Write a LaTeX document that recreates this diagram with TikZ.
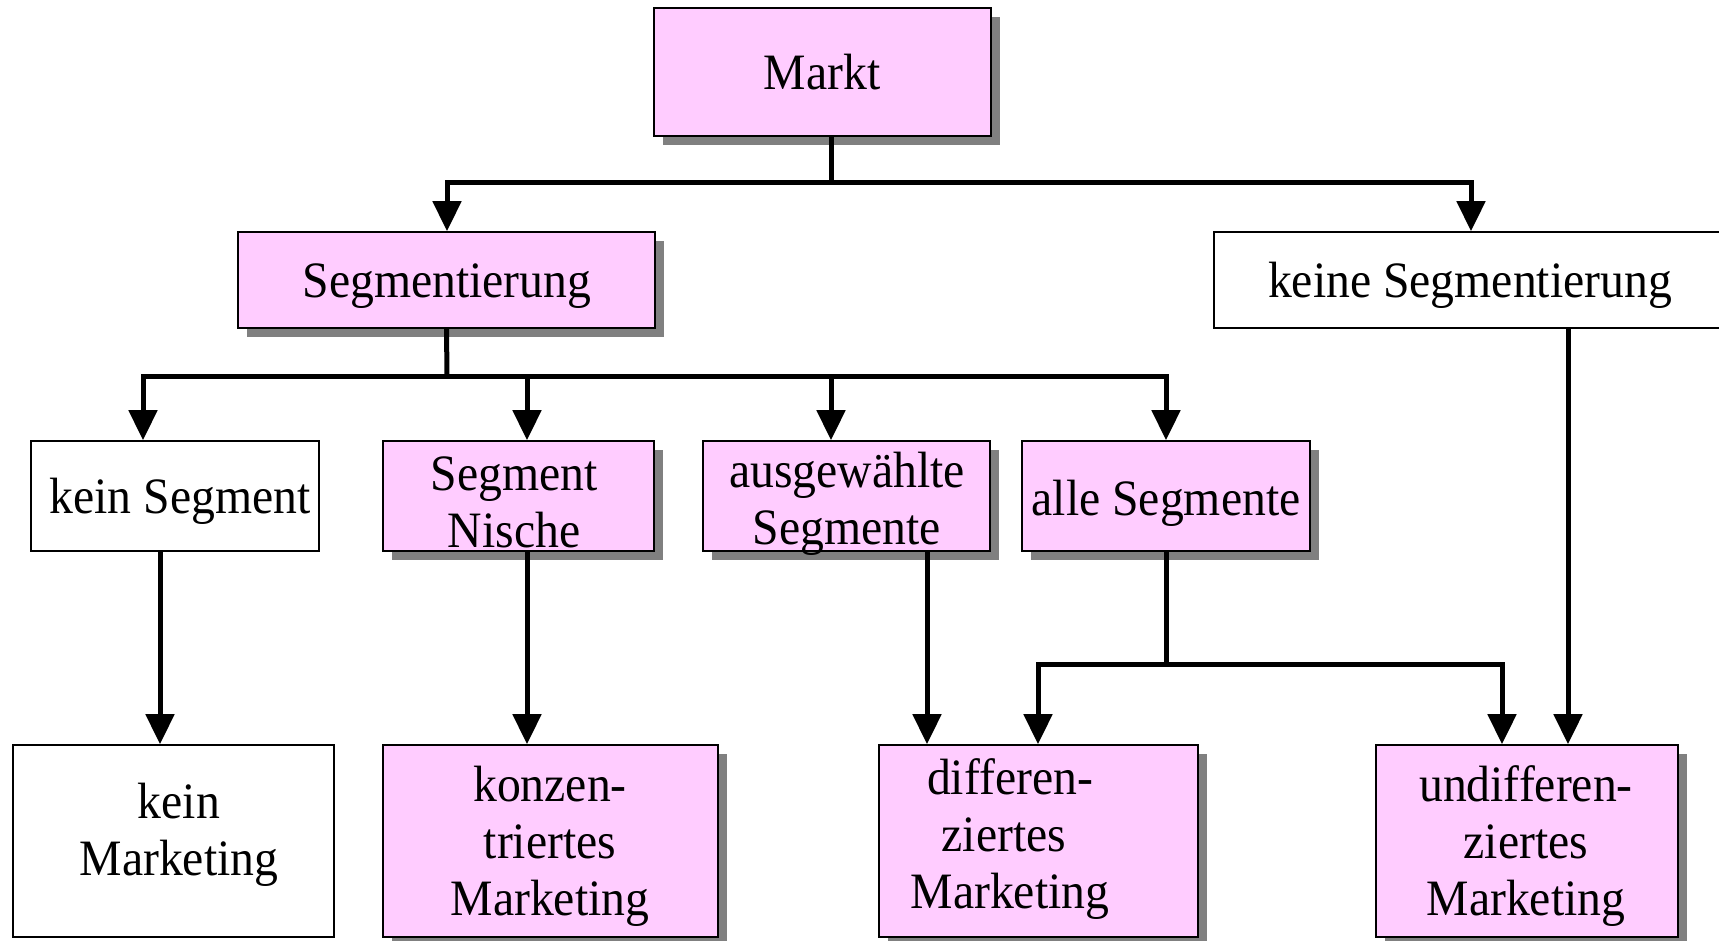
\documentclass[tikz,border=0pt]{standalone}
\usepackage{fontspec}
\setmainfont{Liberation Serif}[FakeStretch=0.935]
\usetikzlibrary{arrows.meta,shadows}
\definecolor{boxpink}{HTML}{FFCCFF}
\definecolor{shadegray}{HTML}{808080}
% stacked, centred lines whose first baseline is the node's base
\newcommand\boxlines[1]{\begin{tabular}[t]{@{}c@{}}#1\end{tabular}}

\begin{document}
\begin{tikzpicture}[x=1pt,y=-1pt,
  plainbox/.style={draw=black, line width=1.6pt, fill=white, inner sep=0pt},
  pinkbox/.style={plainbox, fill=boxpink,
    drop shadow={shadow xshift=9pt, shadow yshift=-9pt, fill=shadegray, opacity=1}},
  txt/.style={font=\fontsize{51}{57}\selectfont, inner sep=0pt, anchor=base},
  conn/.style={draw=black, line width=5pt},
  arr/.style={conn, -{Triangle[length=30pt,width=28pt]}}
]
\useasboundingbox (0,0) rectangle (1719,941);

% top level
\node[pinkbox, minimum width=337pt, minimum height=128pt] (markt) at (822.5,72) {};
\node[txt] (tmarkt) at (822,90) {Markt};

% second level
\node[pinkbox, minimum width=417pt, minimum height=96pt] (seg) at (446.5,280) {};
\node[txt] (tseg) at (447,298) {Segmentierung};
\node[plainbox, minimum width=511pt, minimum height=96pt] (keine) at (1469.5,280) {};
\node[txt] (tkeine) at (1470,298) {keine Segmentierung};

% third level
\node[plainbox, minimum width=288pt, minimum height=110pt] (keinseg) at (175,496) {};
\node[txt] (tkeinseg) at (180,513) {kein Segment};
\node[pinkbox, minimum width=271pt, minimum height=110pt] (nische) at (518.5,496) {};
\node[txt] (tnische) at (514,490) {\boxlines{Segment\\Nische}};
\node[pinkbox, minimum width=287pt, minimum height=110pt] (ausg) at (846.5,496) {};
\node[txt] (tausg) at (847,487) {\boxlines{ausgewählte\\Segmente}};
\node[pinkbox, minimum width=288pt, minimum height=110pt] (alle) at (1166,496) {};
\node[txt] (talle) at (1166,515) {alle Segmente};

% marketing strategies
\node[plainbox, minimum width=321pt, minimum height=192pt] (keinmkt) at (173.5,841) {};
\node[txt] (tkeinmkt) at (179,818) {\boxlines{kein\\Marketing}};
\node[pinkbox, minimum width=335pt, minimum height=192pt] (konz) at (550.5,841) {};
\node[txt] (tkonz) at (550,801) {\boxlines{konzen-\\triertes\\Marketing}};
\node[pinkbox, minimum width=319pt, minimum height=192pt] (diff) at (1038.5,841) {};
\node[txt] (tdiff) at (1010,794) {\boxlines{differen-\\ziertes\rule{12pt}{0pt}\\Marketing}};
\node[pinkbox, minimum width=302pt, minimum height=192pt] (undiff) at (1527,841) {};
\node[txt] (tundiff) at (1526,801) {\boxlines{undifferen-\\ziertes\\Marketing}};

% branching points
\coordinate (j1) at (831,183);
\coordinate (j2) at (447,376);
\coordinate (j3) at (1166,664);

% Markt -> segmentation choice
\draw[conn] (831,0 |- markt.south) -- (j1);
\draw[arr] (j1) -| (447,0 |- seg.north);
\draw[arr] (j1) -| (1471,0 |- keine.north);

% Segmentierung -> segment options
\draw[conn] (seg.south) -- (j2);
\draw[arr] (j2) -| (143,0 |- keinseg.north);
\draw[arr] (j2) -| (527,0 |- nische.north);
\draw[arr] (j2) -| (831,0 |- ausg.north);
\draw[arr] (j2) -| (alle.north);

% segment options -> marketing
\draw[arr] (160,0 |- keinseg.south) -- (160,0 |- keinmkt.north);
\draw[arr] (527,0 |- nische.south) -- (527,0 |- konz.north);
\draw[arr] (927,0 |- ausg.south) -- (927,0 |- diff.north);
\draw[conn] (alle.south) -- (j3);
\draw[arr] (j3) -| (1038,0 |- diff.north);
\draw[arr] (j3) -| (1502,0 |- undiff.north);
\draw[arr] (1568,0 |- keine.south) -- (1568,0 |- undiff.north);
\end{tikzpicture}
\end{document}
